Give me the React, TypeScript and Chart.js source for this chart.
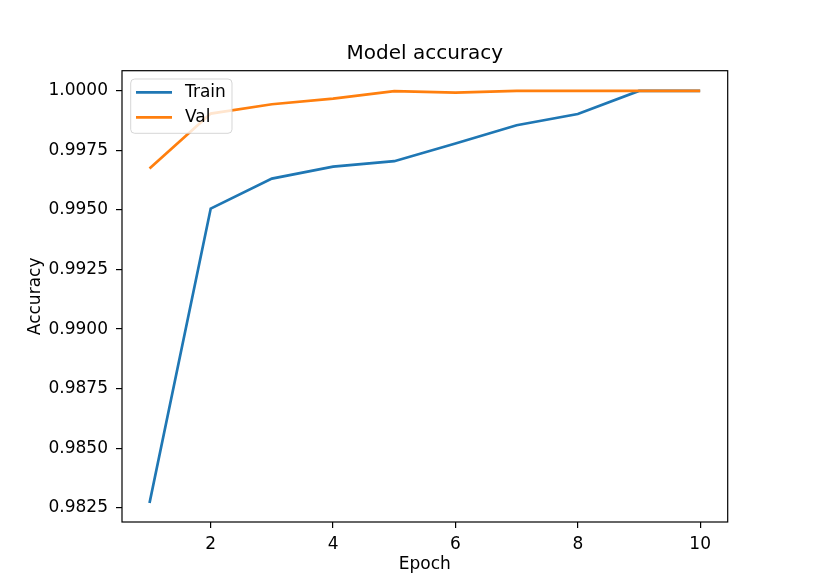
import React, { useEffect, useRef } from "react";
import { Chart, registerables } from "chart.js";

Chart.register(...registerables);

const epochs = [1, 2, 3, 4, 5, 6, 7, 8, 9, 10];
const trainAcc = [0.9827, 0.99506, 0.99632, 0.99682, 0.99705, 0.99779, 0.99856, 0.99903, 1.0, 1.0];
const valAcc = [0.99674, 0.99905, 0.99944, 0.99968, 0.99999, 0.99993, 1.0, 1.0, 1.0, 1.0];
const xTicks = [2, 4, 6, 8, 10];
const yTicks = [0.9825, 0.985, 0.9875, 0.99, 0.9925, 0.995, 0.9975, 1.0];
const seriesNames = ["Train", "Val"];
const seriesColors = ["#1f77b4", "#ff7f0e"];
const titleText = "Model accuracy";
const xLabel = "Epoch";
const yLabel = "Accuracy";

const FONT = "'DejaVu Sans', sans-serif";

const decorPlugin = {
  id: "decor",
  afterDatasetsDraw(chart: any) {
    const ctx = chart.ctx;
    const a = chart.chartArea;
    ctx.save();
    // frame
    ctx.strokeStyle = "#000";
    ctx.lineWidth = 1.2;
    ctx.strokeRect(a.left, a.top, a.right - a.left, a.bottom - a.top);
    // legend
    const bx = 130.7, by = 79, bw = 101.3, bh = 54.3, r = 4;
    ctx.beginPath();
    ctx.moveTo(bx + r, by);
    ctx.lineTo(bx + bw - r, by);
    ctx.quadraticCurveTo(bx + bw, by, bx + bw, by + r);
    ctx.lineTo(bx + bw, by + bh - r);
    ctx.quadraticCurveTo(bx + bw, by + bh, bx + bw - r, by + bh);
    ctx.lineTo(bx + r, by + bh);
    ctx.quadraticCurveTo(bx, by + bh, bx, by + bh - r);
    ctx.lineTo(bx, by + r);
    ctx.quadraticCurveTo(bx, by, bx + r, by);
    ctx.closePath();
    ctx.fillStyle = "rgba(255,255,255,0.8)";
    ctx.fill();
    ctx.strokeStyle = "rgba(204,204,204,0.8)";
    ctx.lineWidth = 1;
    ctx.stroke();
    seriesNames.forEach((name, i) => {
      const y = 92.3 + i * 25;
      ctx.strokeStyle = seriesColors[i];
      ctx.lineWidth = 2.7;
      ctx.beginPath();
      ctx.moveTo(136, y);
      ctx.lineTo(172, y);
      ctx.stroke();
      ctx.fillStyle = "#000";
      ctx.font = `17px ${FONT}`;
      ctx.textAlign = "left";
      ctx.textBaseline = "middle";
      ctx.fillText(name, 185, y);
    });
    // title
    const cx = (a.left + a.right) / 2;
    ctx.fillStyle = "#000";
    ctx.textAlign = "center";
    ctx.textBaseline = "alphabetic";
    ctx.font = `20px ${FONT}`;
    ctx.fillText(titleText, cx, 59);
    // x label
    ctx.font = `17px ${FONT}`;
    ctx.fillText(xLabel, cx, 569);
    // y label
    ctx.save();
    ctx.translate(40, (a.top + a.bottom) / 2);
    ctx.rotate(-Math.PI / 2);
    ctx.fillText(yLabel, 0, 0);
    ctx.restore();
    ctx.restore();
  },
};

export default function App() {
  const ref = useRef<HTMLCanvasElement>(null);
  useEffect(() => {
    const canvas = ref.current!;
    const chart = new Chart(canvas, {
      type: "line",
      data: {
        datasets: [
          {
            label: seriesNames[0],
            data: epochs.map((e, i) => ({ x: e, y: trainAcc[i] })),
            borderColor: seriesColors[0],
            backgroundColor: seriesColors[0],
            borderWidth: 2.7,
            pointRadius: 0,
            tension: 0,
            order: 1,
          },
          {
            label: seriesNames[1],
            data: epochs.map((e, i) => ({ x: e, y: valAcc[i] })),
            borderColor: seriesColors[1],
            backgroundColor: seriesColors[1],
            borderWidth: 2.7,
            pointRadius: 0,
            tension: 0,
            order: 0,
          },
        ],
      },
      options: {
        animation: false,
        responsive: false,
        devicePixelRatio: 1,
        layout: { padding: { left: 0, right: 102.3, top: 70.7, bottom: 0 } },
        plugins: {
          legend: { display: false },
          title: { display: false },
          tooltip: { enabled: false },
        },
        scales: {
          x: {
            type: "linear",
            min: 0.55,
            max: 10.45,
            afterBuildTicks: (s: any) => {
              s.ticks = xTicks.map((v) => ({ value: v }));
            },
            afterFit: (s: any) => {
              s.height = 65;
            },
            border: { display: false },
            grid: {
              display: true,
              drawOnChartArea: false,
              drawTicks: true,
              tickLength: 6,
              color: "#000",
              lineWidth: 1.2,
            },
            ticks: {
              color: "#000",
              font: { family: FONT, size: 17 },
              padding: 6,
              maxRotation: 0,
              autoSkip: false,
              callback: (v: any) => String(v),
            },
          },
          y: {
            type: "linear",
            min: 0.9819,
            max: 1.00085,
            afterBuildTicks: (s: any) => {
              s.ticks = yTicks.map((v) => ({ value: v }));
            },
            afterFit: (s: any) => {
              s.width = 122;
            },
            border: { display: false },
            grid: {
              display: true,
              drawOnChartArea: false,
              drawTicks: true,
              tickLength: 6,
              color: "#000",
              lineWidth: 1.2,
            },
            ticks: {
              color: "#000",
              font: { family: FONT, size: 17 },
              padding: 8,
              autoSkip: false,
              callback: (v: any) => Number(v).toFixed(4),
            },
          },
        },
      },
      plugins: [decorPlugin],
    } as any);
    return () => chart.destroy();
  }, []);
  return (
    <div style={{ position: "absolute", left: 0, top: 0, width: 830, height: 587, background: "#fff" }}>
      <canvas ref={ref} width={830} height={587} style={{ width: 830, height: 587, display: "block" }} />
    </div>
  );
}
